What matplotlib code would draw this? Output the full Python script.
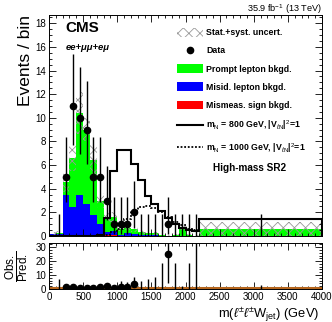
import numpy as np
import matplotlib
matplotlib.use('Agg')
import matplotlib.pyplot as plt
from matplotlib.patches import Patch
from matplotlib.lines import Line2D
from matplotlib.ticker import MultipleLocator

plt.rcParams['font.family'] = ['Liberation Sans', 'DejaVu Sans']
plt.rcParams['mathtext.fontset'] = 'custom'
plt.rcParams['mathtext.rm'] = 'Liberation Sans'
plt.rcParams['mathtext.it'] = 'Liberation Sans:italic'
plt.rcParams['mathtext.bf'] = 'Liberation Sans:bold'
plt.rcParams['hatch.color'] = '#999999'
plt.rcParams['hatch.linewidth'] = 0.6

# bins: 100 GeV up to 2200, then one wide bin to 4000
edges = np.array([0, 100, 200, 300, 400, 500, 600, 700, 800, 900, 1000, 1100,
                  1200, 1300, 1400, 1500, 1600, 1700, 1800, 1900, 2000, 2100,
                  2200, 4000])
centers = 0.5 * (edges[:-1] + edges[1:])

# observed events (first bin not shown)
obs = np.array([np.nan, 0, 5, 11, 10, 9, 5, 5, 3, 1, 1, 1, 2, 0, 0, 0, 0, 1,
                0, 0, 0, 0, 0])
# Garwood 68% intervals for the counts above (down, up)
pois_lo = {0: 0.0, 1: 0.83, 2: 1.29, 3: 1.63, 5: 2.16, 9: 2.94, 10: 3.10, 11: 3.26}
pois_hi = {0: 1.84, 1: 2.30, 2: 2.64, 3: 2.92, 5: 3.38, 9: 4.10, 10: 4.26, 11: 4.41}

# backgrounds
mismeas = np.array([0, 0, 0.03, 0.05, 0.08, 0.1, 0.1, 0.1, 0.08, 0.05, 0.02,
                    0.02, 0.02, 0, 0, 0, 0, 0, 0, 0, 0, 0, 0])
misid = np.array([0.15, 0.2, 3.4, 2.4, 3.35, 2.6, 1.7, 0.9, 0.3, 0.35, 0.1,
                  0.25, 0.15, 0.05, 0.05, 0.05, 0, 0, 0, 0, 0, 0, 0.03])
prompt = np.array([0.05, 0.06, 1.17, 4.15, 6.97, 6.3, 4.6, 2.0, 1.22, 1.2,
                   0.48, 0.43, 0.38, 0.29, 0.21, 0.17, 0.10, 0.04, 0.10, 0.8,
                   0.10, 0.04, 0.57])
bkg_unc = np.array([0.1, 0.15, 0.9, 1.1, 1.8, 1.0, 1.4, 0.6, 0.4, 0.4, 0.2,
                    0.2, 0.2, 0.15, 0.1, 0.1, 0.05, 0.03, 0.05, 0.3, 0.05,
                    0.03, 0.6])

# signals
sig800 = np.array([0, 0, 0, 0, 0, 0, 0, 0.1, 1.5, 5.5, 7.3, 7.25, 6.1, 4.75,
                   3.4, 2.7, 2.1, 1.55, 1.0, 0.7, 0.5, 0.45, 1.4])
sig1000 = np.array([0, 0, 0, 0, 0, 0, 0, 0, 0.1, 0.3, 0.6, 1.4, 2.1, 2.45,
                    2.5, 2.4, 2.05, 1.6, 1.2, 0.9, 0.6, 0.5, 1.4])

total = mismeas + misid + prompt

fig = plt.figure(figsize=(3.32, 3.22), dpi=100)
ax = fig.add_axes([0.1476, 0.2671, 0.8223, 0.6863])
rax = fig.add_axes([0.1476, 0.1025, 0.8223, 0.1428])

# stacked backgrounds
ax.stairs(mismeas, edges, baseline=0, fill=True, color='#ff0000', lw=0)
ax.stairs(mismeas + misid, edges, baseline=mismeas, fill=True, color='#0000ff', lw=0)
ax.stairs(total, edges, baseline=mismeas + misid, fill=True, color='#00ff00', lw=0)
ax.stairs(total + bkg_unc, edges, baseline=np.clip(total - bkg_unc, 0, None),
          fill=True, facecolor='none', edgecolor='#999999', hatch='xxx', lw=0)

ax.stairs(sig800, edges, color='k', lw=1.5)
ax.stairs(sig1000, edges, color='k', lw=1.3, ls=(0, (1, 1)))

# data
show = ~np.isnan(obs)
lo = np.array([pois_lo[int(n)] if s else 0 for n, s in zip(obs, show)])
hi = np.array([pois_hi[int(n)] if s else 0 for n, s in zip(obs, show)])
ax.errorbar(centers[show], obs[show], yerr=[lo[show], hi[show]], fmt='none',
            ecolor='k', elinewidth=1.0)
pos = show & (obs > 0)
ax.plot(centers[pos], obs[pos], 'o', color='k', ms=4.5)

ax.set_xlim(0, 4000)
ax.set_ylim(0, 18.7)
ax.yaxis.set_major_locator(MultipleLocator(2))
ax.yaxis.set_minor_locator(MultipleLocator(0.5))
ax.xaxis.set_major_locator(MultipleLocator(500))
ax.xaxis.set_minor_locator(MultipleLocator(100))
ax.set_xticklabels([])

# ratio panel
ratio = obs / total
r_lo = lo / total
r_hi = hi / total
rax.axhline(1, color='#b5651d', lw=2.2)
rax.errorbar(centers[show], ratio[show], yerr=[r_lo[show], r_hi[show]],
             fmt='none', ecolor='k', elinewidth=1.0)
rax.plot(centers[pos], ratio[pos], 'o', color='k', ms=4.5)
rax.set_xlim(0, 4000)
rax.set_ylim(0, 33)
rax.yaxis.set_major_locator(MultipleLocator(10))
rax.yaxis.set_minor_locator(MultipleLocator(2))
rax.xaxis.set_major_locator(MultipleLocator(500))
rax.xaxis.set_minor_locator(MultipleLocator(100))

for a in (ax, rax):
    a.tick_params(which='both', direction='in', top=True, right=True,
                  labelsize=7, width=0.6, pad=2)
    a.tick_params(which='major', length=5)
    a.tick_params(which='minor', length=2.5)
    for s in a.spines.values():
        s.set_linewidth(0.7)

ax.set_ylabel('Events / bin', fontsize=12.5, loc='top', labelpad=2)
rax.set_ylabel(r'$\frac{\mathrm{Obs.}}{\mathrm{Pred.}}$', fontsize=12, labelpad=3)
fig.text(0.962, 0.024, r'm($\ell^{\pm}\ell^{\pm}$W$_{\mathrm{jet}}$) (GeV)',
         fontsize=9.3, ha='right', va='center')

fig.text(0.97, 0.973, r'35.9 fb$^{-1}$ (13 TeV)', fontsize=6.6, ha='right',
         va='center')
ax.text(0.06, 0.94, 'CMS', transform=ax.transAxes, fontsize=11, weight='bold',
        va='center')
ax.text(0.06, 0.855, 'ee+μμ+eμ', transform=ax.transAxes, fontsize=6.8,
        weight='bold', style='italic', va='center')
ax.text(0.736, 0.308, 'High-mass SR2', transform=ax.transAxes, fontsize=7.2,
        weight='bold', ha='center', va='center')

handles = [
    Patch(facecolor='white', edgecolor='#999999', hatch='xxx', lw=0),
    Line2D([], [], marker='o', color='k', ms=4.5, ls=''),
    Patch(facecolor='#00ff00', lw=0),
    Patch(facecolor='#0000ff', lw=0),
    Patch(facecolor='#ff0000', lw=0),
    Line2D([], [], color='k', lw=1.5),
    Line2D([], [], color='k', lw=1.3, ls=(0, (1, 1))),
]
labels = ['Stat.+syst. uncert.', 'Data', 'Prompt lepton bkgd.',
          'Misid. lepton bkgd.', 'Mismeas. sign bkgd.',
          r'm$_{\mathrm{N}}$ = 800 GeV, |V$_{\ell\mathrm{N}}$|$^{2}$=1',
          r'm$_{\mathrm{N}}$ = 1000 GeV, |V$_{\ell\mathrm{N}}$|$^{2}$=1']
ax.legend(handles, labels, loc='upper left', bbox_to_anchor=(0.445, 0.97),
          frameon=False, prop={'size': 6.3, 'weight': 'bold'},
          handlelength=3.0, handleheight=1.2, labelspacing=1.0,
          handletextpad=0.4, borderpad=0.2)

fig.savefig('out.png', dpi=100)
